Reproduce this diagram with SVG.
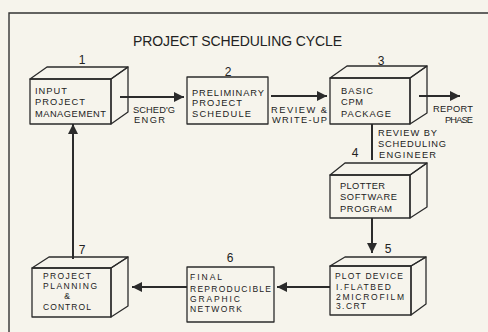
<svg xmlns="http://www.w3.org/2000/svg" width="488" height="332" viewBox="0 0 488 332">
<style>
.bg{fill:#f6f4ec}
.face{fill:none;stroke:#2b2b2b;stroke-width:1.3;stroke-linejoin:round}
.t{font-family:"Liberation Sans","DejaVu Sans",sans-serif;font-size:9.3px;fill:#222}
.s{font-size:8.5px}
.n{font-family:"Liberation Sans","DejaVu Sans",sans-serif;font-size:12px;fill:#222;text-anchor:middle}
.title{font-family:"Liberation Sans","DejaVu Sans",sans-serif;font-size:14px;fill:#222}
.ln{stroke:#2b2b2b;stroke-width:2;fill:none}
.frame{stroke:#333;stroke-width:1.4;fill:none}
</style>
<defs>
<marker id="ah" viewBox="0 0 10 10" refX="10" refY="5" markerWidth="10" markerHeight="10" markerUnits="userSpaceOnUse" orient="auto">
<path d="M0,0 L10,5 L0,10 Z" fill="#2b2b2b"/>
</marker>
</defs>
<rect class="bg" x="0" y="0" width="488" height="332"/>
<path class="frame" d="M9,332 V13 H488"/>
<text class="title" x="133" y="46" textLength="209" lengthAdjust="spacing">PROJECT SCHEDULING CYCLE</text>

<g id="connectors">
<line class="ln" x1="120" y1="97" x2="184" y2="97" marker-end="url(#ah)"/>
<line class="ln" x1="271" y1="96" x2="327" y2="96" marker-end="url(#ah)"/>
<line class="ln" x1="419" y1="96" x2="460" y2="96" marker-end="url(#ah)"/>
<line class="ln" x1="372" y1="124" x2="372" y2="160"/>
<line class="ln" x1="372" y1="218" x2="372" y2="253" marker-end="url(#ah)"/>
<line class="ln" x1="330" y1="287" x2="277" y2="287" marker-end="url(#ah)"/>
<line class="ln" x1="187" y1="287" x2="132" y2="287" marker-end="url(#ah)"/>
<line class="ln" x1="73" y1="259" x2="73" y2="124" marker-end="url(#ah)"/>
<text class="t" x="133" y="113" textLength="42" lengthAdjust="spacing">SCHED'G</text>
<text class="t" x="134" y="123" textLength="31" lengthAdjust="spacing">ENGR</text>
<text class="t" x="271" y="113" textLength="56" lengthAdjust="spacing">REVIEW &amp;</text>
<text class="t" x="272" y="123" textLength="55" lengthAdjust="spacing">WRITE-UP</text>
<text class="t" x="433" y="112" textLength="40" lengthAdjust="spacing">REPORT</text>
<text class="t" x="445" y="123" textLength="28" lengthAdjust="spacing">PHASE</text>
<text class="t" x="378" y="136" textLength="59" lengthAdjust="spacing">REVIEW BY</text>
<text class="t" x="378" y="147" textLength="68" lengthAdjust="spacing">SCHEDULING</text>
<text class="t" x="379" y="158" textLength="57" lengthAdjust="spacing">ENGINEER</text>
</g>

<g id="node1">
<rect class="face" x="30" y="79" width="81" height="45"/>
<polygon class="face" points="30,79 47,67 128,67 111,79"/>
<polygon class="face" points="111,79 128,67 128,112 111,124"/>
<text class="n" x="82" y="64">1</text>
<text class="t" x="35" y="94" textLength="32" lengthAdjust="spacing">INPUT</text>
<text class="t" x="35" y="105" textLength="50" lengthAdjust="spacing">PROJECT</text>
<text class="t" x="35" y="117" textLength="71" lengthAdjust="spacing">MANAGEMENT</text>
</g>

<g id="node2">
<rect class="face" x="187" y="77" width="81" height="47"/>
<text class="n" x="228" y="76">2</text>
<text class="t" x="192" y="96" textLength="72" lengthAdjust="spacing">PRELIMINARY</text>
<text class="t" x="192" y="106" textLength="50" lengthAdjust="spacing">PROJECT</text>
<text class="t" x="192" y="117" textLength="59" lengthAdjust="spacing">SCHEDULE</text>
</g>

<g id="node3">
<rect class="face" x="330" y="78" width="80" height="46"/>
<polygon class="face" points="330,78 347,66 427,66 410,78"/>
<polygon class="face" points="410,78 427,66 427,113 410,124"/>
<text class="n" x="381" y="65">3</text>
<text class="t" x="341" y="94" textLength="32" lengthAdjust="spacing">BASIC</text>
<text class="t" x="341" y="105" textLength="22" lengthAdjust="spacing">CPM</text>
<text class="t" x="341" y="117" textLength="50" lengthAdjust="spacing">PACKAGE</text>
</g>

<g id="node4">
<rect class="face" x="330" y="175" width="80" height="43"/>
<polygon class="face" points="330,175 345,163 427,163 410,175"/>
<polygon class="face" points="410,175 427,163 427,207 410,218"/>
<text class="n" x="355" y="157">4</text>
<text class="t" x="340" y="189" textLength="45" lengthAdjust="spacing">PLOTTER</text>
<text class="t" x="340" y="200" textLength="57" lengthAdjust="spacing">SOFTWARE</text>
<text class="t" x="340" y="212" textLength="52" lengthAdjust="spacing">PROGRAM</text>
</g>

<g id="node5">
<rect class="face" x="330" y="266" width="81" height="49"/>
<polygon class="face" points="330,266 345,257 426,257 411,266"/>
<polygon class="face" points="411,266 426,257 426,304 411,315"/>
<text class="n" x="388" y="253">5</text>
<text class="t s" x="335" y="279" textLength="68" lengthAdjust="spacing">PLOT DEVICE</text>
<text class="t s" x="336" y="290" textLength="55" lengthAdjust="spacing">I.FLATBED</text>
<text class="t s" x="336" y="300" textLength="68" lengthAdjust="spacing">2MICROFILM</text>
<text class="t s" x="336" y="309" textLength="30" lengthAdjust="spacing">3.CRT</text>
</g>

<g id="node6">
<rect class="face" x="187" y="267" width="87" height="55"/>
<text class="n" x="230" y="262">6</text>
<text class="t s" x="190" y="280" textLength="32" lengthAdjust="spacing">FINAL</text>
<text class="t s" x="190" y="292" textLength="81" lengthAdjust="spacing">REPRODUCIBLE</text>
<text class="t s" x="190" y="302" textLength="50" lengthAdjust="spacing">GRAPHIC</text>
<text class="t s" x="190" y="312" textLength="52" lengthAdjust="spacing">NETWORK</text>
</g>

<g id="node7">
<rect class="face" x="32" y="268" width="79" height="49"/>
<polygon class="face" points="32,268 49,257 128,257 111,268"/>
<polygon class="face" points="111,268 128,257 128,306 111,317"/>
<text class="n" x="82" y="254">7</text>
<text class="t s" x="43" y="279" textLength="48" lengthAdjust="spacing">PROJECT</text>
<text class="t s" x="43" y="289" textLength="54" lengthAdjust="spacing">PLANNING</text>
<text class="t s" x="67" y="299" text-anchor="middle">&amp;</text>
<text class="t s" x="43" y="310" textLength="48" lengthAdjust="spacing">CONTROL</text>
</g>
</svg>
